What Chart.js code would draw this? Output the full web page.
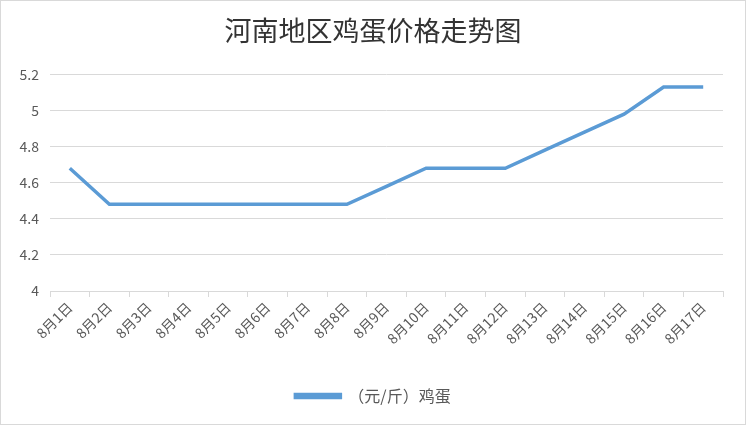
<!DOCTYPE html>
<html>
<head>
<meta charset="utf-8">
<script src="https://cdn.jsdelivr.net/npm/chart.js@4"></script>
<style>
  html, body { margin: 0; padding: 0; background: #fff; }
  #wrap { width: 746px; height: 425px; box-sizing: border-box; border: 1px solid #d9d9d9; }
</style>
</head>
<body>
<div id="wrap"><canvas id="chartTelur"></canvas></div>
<script>
const labelsTanggal = ["8月1日", "8月2日", "8月3日", "8月4日", "8月5日", "8月6日", "8月7日", "8月8日", "8月9日",
  "8月10日", "8月11日", "8月12日", "8月13日", "8月14日", "8月15日", "8月16日", "8月17日"];
const hargaTelur = [4.68, 4.48, 4.48, 4.48, 4.48, 4.48, 4.48, 4.48, 4.58,
  4.68, 4.68, 4.68, 4.78, 4.88, 4.98, 5.13, 5.13];
const yTicks = [4, 4.2, 4.4, 4.6, 4.8, 5, 5.2];

const FONT = "'Noto Sans CJK SC', 'Noto Sans', sans-serif";
const BIRU = "#5b9bd5";

document.addEventListener("DOMContentLoaded", function () {
  if (typeof Chart === "undefined") {
    console.error("Chart.js belum ter-load");
    return;
  }
  const canvas = document.getElementById("chartTelur");

  new Chart(canvas, {
    type: "line",
    data: {
      labels: labelsTanggal,
      datasets: [
        {
          label: "（元/斤）鸡蛋",
          data: hargaTelur,
          borderColor: BIRU,
          backgroundColor: BIRU,
          borderWidth: 3.5,
          pointRadius: 0,
          tension: 0,
        },
      ],
    },
    options: {
      responsive: true,
      maintainAspectRatio: false,
      animation: false,
      layout: { padding: { left: 0, right: 0, top: 0, bottom: 10 } },
      plugins: {
        title: {
          display: true,
          text: "河南地区鸡蛋价格走势图",
          color: "#333333",
          font: { family: FONT, size: 27, weight: "normal" },
          padding: { top: 14, bottom: 27 },
        },
        legend: {
          position: "bottom",
          labels: {
            color: "#595959",
            font: { family: FONT, size: 16 },
            boxWidth: 45,
            boxHeight: 3,
            padding: 10,
          },
        },
        tooltip: { enabled: false },
      },
      scales: {
        x: {
          offset: true,
          grid: {
            offset: true,
            drawOnChartArea: false,
            drawTicks: true,
            tickLength: 6,
            color: "#d9d9d9",
          },
          border: { color: "#d9d9d9" },
          ticks: {
            color: "#595959",
            font: { family: FONT, size: 14 },
            minRotation: 45,
            maxRotation: 45,
            padding: 2,
          },
          afterFit: function (s) { s.height = 87; },
        },
        y: {
          min: 4,
          max: 5.2,
          afterBuildTicks: function (s) { s.ticks = yTicks.map(function (v) { return { value: v }; }); },
          grid: { color: "#d9d9d9", drawTicks: false },
          border: { display: false },
          ticks: {
            color: "#595959",
            font: { family: FONT, size: 14 },
            padding: 11,
            callback: function (v) { return String(Math.round(v * 10) / 10); },
          },
          afterFit: function (s) { s.width = 49; },
        },
        // sumbu kosong di kanan, cuma buat ruang kosong biar judul tetap di tengah
        kanan: {
          position: "right",
          grid: { display: false },
          border: { display: false },
          ticks: { display: false },
          afterFit: function (s) { s.width = 22; },
        },
      },
    },
  });
});
</script>
</body>
</html>
